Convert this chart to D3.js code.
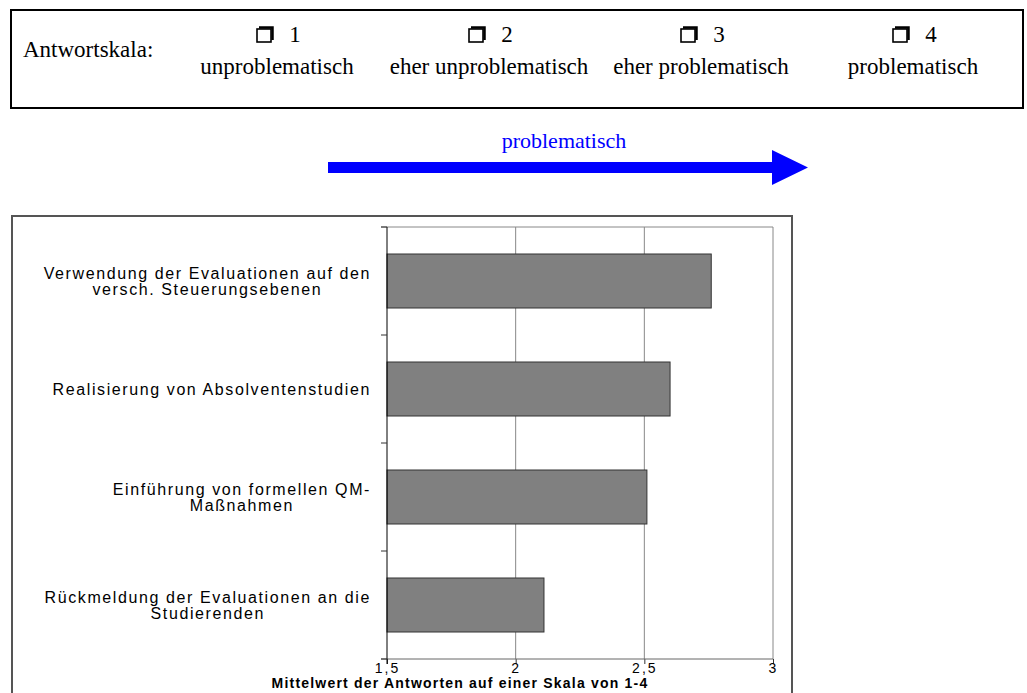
<!DOCTYPE html>
<html>
<head>
<meta charset="utf-8">
<script src="https://cdn.jsdelivr.net/npm/d3@7"></script>
<style>
  body { margin: 0; background: #fff; }
  svg { display: block; }
  .serif { font-family: "Liberation Serif", "Times New Roman", serif; }
  .sans { font-family: "Liberation Sans", Arial, sans-serif; }
</style>
</head>
<body>
<svg id="chart" width="1027" height="693"></svg>
<script>
// -----------------------------------------------------------------------------
// data

var scaleValues = ['1', '2', '3', '4'];
var scaleLabels = [
  'unproblematisch',
  'eher unproblematisch',
  'eher problematisch',
  'problematisch'
];

var categories = [
  ['Verwendung der Evaluationen auf den', 'versch. Steuerungsebenen'],
  ['Realisierung von Absolventenstudien'],
  ['Einführung von formellen QM-', 'Maßnahmen'],
  ['Rückmeldung der Evaluationen an die', 'Studierenden']
];
var values = [2.76, 2.60, 2.51, 2.11];

var xTicks = [1.5, 2, 2.5, 3];
var xTitle = 'Mittelwert der Antworten auf einer Skala von 1-4';

// -----------------------------------------------------------------------------

var svg = d3.select('#chart');

// - - - - - - - - - - - - - - - - - - - - - - - - - - - - - - - - - - - - - - -
// answer scale box

svg.append('rect')
  .attr('x', 11).attr('y', 10)
  .attr('width', 1012).attr('height', 98)
  .attr('fill', 'none')
  .attr('stroke', '#000')
  .attr('stroke-width', 2);

svg.append('text')
  .attr('class', 'serif')
  .attr('x', 23).attr('y', 57)
  .attr('font-size', 23)
  .text('Antwortskala:');

var colX = d3.scalePoint()
  .domain(scaleValues)
  .range([277, 913]);

var gCol = svg.selectAll('g.col')
  .data(scaleValues)
  .join('g')
  .attr('class', 'col serif')
  .attr('transform', function (d) { return 'translate(' + colX(d) + ',0)'; });

// shadowed check box + number
gCol.append('rect')
  .attr('x', -20).attr('y', 29)
  .attr('width', 14).attr('height', 13)
  .attr('fill', '#fff')
  .attr('stroke', '#000')
  .attr('stroke-width', 1.6);
gCol.append('path')
  .attr('d', 'M-18,27.5 H-4.5 V40')
  .attr('fill', 'none')
  .attr('stroke', '#000')
  .attr('stroke-width', 2.5);
gCol.append('text')
  .attr('x', 18).attr('y', 42)
  .attr('font-size', 23)
  .attr('text-anchor', 'middle')
  .text(function (d) { return d; });

gCol.append('text')
  .attr('x', 0).attr('y', 74)
  .attr('font-size', 23)
  .attr('text-anchor', 'middle')
  .text(function (d, i) { return scaleLabels[i]; });

// - - - - - - - - - - - - - - - - - - - - - - - - - - - - - - - - - - - - - - -
// blue arrow

svg.append('text')
  .attr('class', 'serif')
  .attr('x', 564).attr('y', 148)
  .attr('font-size', 22)
  .attr('fill', '#0000ff')
  .attr('text-anchor', 'middle')
  .text('problematisch');

svg.append('path')
  .attr('d', 'M328,162 H772 V150 L808,167.5 L772,185 V173 H328 Z')
  .attr('fill', '#0000ff');

// - - - - - - - - - - - - - - - - - - - - - - - - - - - - - - - - - - - - - - -
// bar chart

svg.append('rect')
  .attr('x', 12).attr('y', 216)
  .attr('width', 780).attr('height', 500)
  .attr('fill', 'none')
  .attr('stroke', '#555')
  .attr('stroke-width', 2);

var plot = { left: 387, right: 773, top: 227, bottom: 659 };

var x = d3.scaleLinear()
  .domain([xTicks[0], xTicks[xTicks.length - 1]])
  .range([plot.left, plot.right]);

var y = d3.scaleBand()
  .domain(d3.range(categories.length))
  .range([plot.top, plot.bottom])
  .paddingInner(0.5)
  .paddingOuter(0.25);

var fmt = function (d) { return String(d).replace('.', ','); };

// gridlines
svg.append('g')
  .selectAll('line')
  .data(xTicks.slice(1))
  .join('line')
  .attr('x1', function (d) { return x(d); })
  .attr('x2', function (d) { return x(d); })
  .attr('y1', plot.top)
  .attr('y2', plot.bottom)
  .attr('stroke', '#888')
  .attr('stroke-width', 1);

svg.append('line')
  .attr('x1', plot.left - 6).attr('x2', plot.right)
  .attr('y1', plot.top).attr('y2', plot.top)
  .attr('stroke', '#888');

// bars
svg.append('g')
  .selectAll('rect')
  .data(values)
  .join('rect')
  .attr('x', x(xTicks[0]))
  .attr('y', function (d, i) { return y(i); })
  .attr('width', function (d) { return x(d) - x(xTicks[0]); })
  .attr('height', y.bandwidth())
  .attr('fill', '#808080')
  .attr('stroke', '#333')
  .attr('stroke-width', 1);

// bottom axis
var gX = svg.append('g')
  .attr('transform', 'translate(0,' + plot.bottom + ')')
  .call(d3.axisBottom(x).tickValues(xTicks).tickFormat(fmt).tickSize(5).tickSizeOuter(0));
gX.select('.domain').remove();
gX.append('line')
  .attr('x1', plot.left - 6).attr('x2', plot.right)
  .attr('stroke', '#666');
gX.selectAll('.tick line').attr('stroke', '#333');
gX.selectAll('.tick text')
  .attr('class', 'sans')
  .attr('y', 4)
  .attr('dy', '0.71em')
  .attr('font-size', 14)
  .attr('letter-spacing', 2)
  .attr('fill', '#000');

// left axis line + category ticks
var boundaries = d3.range(categories.length + 1).map(function (i) {
  return plot.top + i * (plot.bottom - plot.top) / categories.length;
});
svg.append('line')
  .attr('x1', plot.left).attr('x2', plot.left)
  .attr('y1', plot.top).attr('y2', plot.bottom + 5)
  .attr('stroke', '#000');
svg.append('g')
  .selectAll('line')
  .data(boundaries)
  .join('line')
  .attr('x1', plot.left - 6).attr('x2', plot.left)
  .attr('y1', function (d) { return d; })
  .attr('y2', function (d) { return d; })
  .attr('stroke', '#333');

// category labels (multi-line, centred within a right-aligned block)
var lineH = 16;
var gLab = svg.append('g')
  .attr('class', 'sans')
  .selectAll('text')
  .data(categories)
  .join('text')
  .attr('font-size', 16)
  .attr('letter-spacing', 1.6)
  .attr('fill', '#000')
  .attr('text-anchor', 'middle');

gLab.each(function (lines, i) {
  var t = d3.select(this);
  var cy = y(i) + y.bandwidth() / 2;
  var y0 = cy - (lines.length - 1) * lineH / 2 + 5.5;
  t.selectAll('tspan')
    .data(lines)
    .join('tspan')
    .attr('y', function (d, j) { return y0 + j * lineH; })
    .text(function (d) { return d; });
  var w = 0;
  t.selectAll('tspan').each(function () {
    w = Math.max(w, this.getComputedTextLength());
  });
  t.selectAll('tspan').attr('x', 371 - w / 2);
});

// axis title
svg.append('text')
  .attr('class', 'sans')
  .attr('x', 460).attr('y', 688)
  .attr('font-size', 14)
  .attr('font-weight', 'bold')
  .attr('letter-spacing', 1.2)
  .attr('text-anchor', 'middle')
  .text(xTitle);
</script>
</body>
</html>
